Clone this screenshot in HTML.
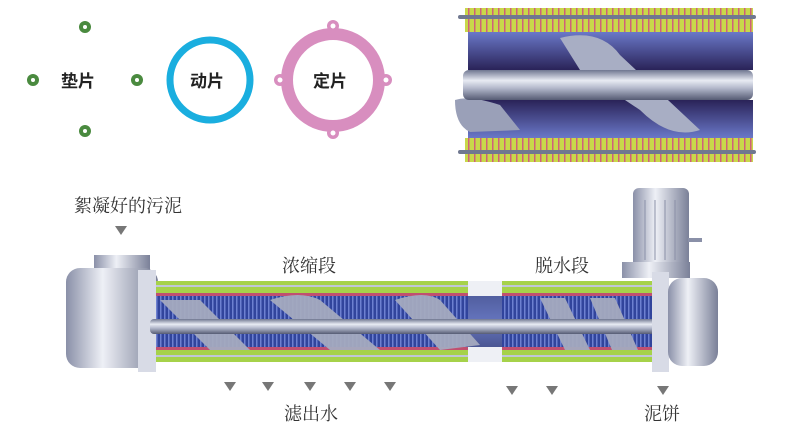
<!DOCTYPE html>
<html><head><meta charset="utf-8"><style>
html,body{margin:0;padding:0;background:#fff;}
svg{display:block}
.s{font-family:"Liberation Serif","Noto Serif CJK SC",serif;font-size:18px;fill:#333}
.b{font-family:"Liberation Sans","Noto Sans CJK SC",sans-serif;font-size:17px;font-weight:bold;fill:#222}
</style></head><body>
<svg width="798" height="434" viewBox="0 0 798 434" xmlns="http://www.w3.org/2000/svg">
<defs>
<linearGradient id="metal" x1="0" y1="0" x2="0" y2="1">
<stop offset="0" stop-color="#6f7690"/><stop offset="0.35" stop-color="#e8ebf3"/><stop offset="0.6" stop-color="#b4b9cc"/><stop offset="1" stop-color="#555b73"/></linearGradient>
<linearGradient id="metalh" x1="0" y1="0" x2="1" y2="0">
<stop offset="0" stop-color="#8a90a8"/><stop offset="0.4" stop-color="#eef0f6"/><stop offset="1" stop-color="#7a8098"/></linearGradient>
<linearGradient id="blue" x1="0" y1="0" x2="0" y2="1">
<stop offset="0" stop-color="#2a3a8a"/><stop offset="0.5" stop-color="#4356b0"/><stop offset="1" stop-color="#22307a"/></linearGradient>
<linearGradient id="purp" x1="0" y1="0" x2="0" y2="1">
<stop offset="0" stop-color="#6a78c8"/><stop offset="1" stop-color="#2a2358"/></linearGradient>
<linearGradient id="purp2" x1="0" y1="0" x2="0" y2="1">
<stop offset="0" stop-color="#2a2358"/><stop offset="1" stop-color="#6a78c8"/></linearGradient>
<pattern id="fins" width="4" height="10" patternUnits="userSpaceOnUse"><rect width="4" height="10" fill="#31449c"/><rect width="1.5" height="10" fill="#6d80d0"/></pattern>
<pattern id="tfins" width="6" height="10" patternUnits="userSpaceOnUse"><rect width="6" height="10" fill="#c8d84a"/><rect width="1.5" height="10" fill="#d0607a"/></pattern>
</defs>

<!-- washers -->
<g fill="#4a8a3f"><circle cx="85" cy="27" r="6"/><circle cx="33" cy="80" r="6"/><circle cx="137" cy="80" r="6"/><circle cx="85" cy="131" r="6"/></g>
<g fill="#fff"><circle cx="85" cy="27" r="2"/><circle cx="33" cy="80" r="2"/><circle cx="137" cy="80" r="2"/><circle cx="85" cy="131" r="2"/></g>
<text class="b" x="61" y="87">垫片</text>
<circle cx="210" cy="80" r="40" fill="none" stroke="#1aaedf" stroke-width="7"/>
<text class="b" x="190" y="87">动片</text>
<g fill="#d88ebf"><circle cx="333" cy="26" r="6"/><circle cx="333" cy="133" r="6"/><circle cx="280" cy="80" r="6"/><circle cx="386" cy="80" r="6"/></g>
<circle cx="333" cy="80" r="46" fill="none" stroke="#d88ebf" stroke-width="12"/>
<g fill="#fff"><circle cx="333" cy="26" r="2.5"/><circle cx="333" cy="133" r="2.5"/><circle cx="280" cy="80" r="2.5"/><circle cx="386" cy="80" r="2.5"/></g>
<text class="b" x="313" y="87">定片</text>

<!-- top right illustration -->
<rect x="465" y="8" width="288" height="24" fill="url(#tfins)"/>
<rect x="458" y="15" width="298" height="4" rx="2" fill="#707890"/>
<rect x="468" y="32" width="285" height="38" fill="url(#purp)"/>
<rect x="468" y="100" width="285" height="38" fill="url(#purp2)"/>
<rect x="465" y="138" width="288" height="24" fill="url(#tfins)"/>
<rect x="458" y="150" width="298" height="4" rx="2" fill="#707890"/>
<path d="M455 100 Q470 95 500 105 L520 130 L470 132 Q455 125 455 100Z" fill="#9aa0b8"/>
<path d="M560 38 Q600 28 620 55 L700 130 Q670 140 640 110 L580 70Z" fill="#a8aec4"/>
<rect x="463" y="70" width="290" height="30" rx="6" fill="url(#metal)"/>

<!-- labels -->
<text class="s" x="74" y="212">絮凝好的污泥</text>
<path d="M115 226h12l-6 9z" fill="#777"/>
<text class="s" x="282" y="272">浓缩段</text>
<text class="s" x="535" y="272">脱水段</text>

<!-- motor -->
<rect x="633" y="188" width="56" height="80" rx="6" fill="url(#metalh)"/>
<g stroke="#8a90a8" stroke-width="1"><line x1="645" y1="200" x2="645" y2="260"/><line x1="655" y1="200" x2="655" y2="260"/><line x1="665" y1="200" x2="665" y2="260"/><line x1="675" y1="200" x2="675" y2="260"/></g>
<rect x="688" y="238" width="14" height="4" fill="#8a90a8"/>
<rect x="622" y="262" width="68" height="16" fill="url(#metalh)"/>

<!-- left housing -->
<rect x="94" y="255" width="56" height="18" fill="url(#metalh)"/>
<rect x="66" y="268" width="92" height="100" rx="14" fill="url(#metalh)"/>
<rect x="138" y="270" width="18" height="102" fill="#d8dbe6"/>

<!-- tube -->
<rect x="156" y="281" width="498" height="12" fill="#a6d24a"/>
<rect x="156" y="285" width="498" height="2" fill="#c0c6d8"/>
<rect x="156" y="293" width="498" height="3" fill="#c05070"/>
<rect x="156" y="296" width="498" height="54" fill="url(#fins)"/>
<rect x="156" y="347" width="498" height="3" fill="#c05070"/>
<rect x="156" y="350" width="498" height="12" fill="#a6d24a"/>
<rect x="156" y="355" width="498" height="2" fill="#c0c6d8"/>
<rect x="468" y="281" width="34" height="81" fill="#eef0f5"/>
<rect x="468" y="296" width="34" height="51" fill="url(#blue)" opacity="0.8"/>
<!-- screw flights -->
<g fill="#a4aabf" opacity="0.95">
<path d="M160 300 L200 300 L250 350 L210 350Z"/>
<path d="M270 300 Q300 290 320 300 L380 350 L330 350Z"/>
<path d="M395 300 Q425 290 440 300 L480 345 L440 350Z"/>
<path d="M540 298 L565 298 L590 350 L565 350Z"/>
<path d="M590 298 L615 298 L638 350 L612 350Z"/>
</g>
<rect x="150" y="319" width="505" height="15" rx="4" fill="url(#metal)"/>

<!-- right housing -->
<rect x="652" y="272" width="17" height="100" fill="#d8dbe6"/>
<rect x="668" y="278" width="50" height="88" rx="14" fill="url(#metalh)"/>

<!-- bottom arrows -->
<g fill="#777">
<path d="M224 382h12l-6 9z"/><path d="M262 382h12l-6 9z"/><path d="M304 382h12l-6 9z"/><path d="M344 382h12l-6 9z"/><path d="M384 382h12l-6 9z"/>
<path d="M506 386h12l-6 9z"/><path d="M546 386h12l-6 9z"/><path d="M657 386h12l-6 9z"/>
</g>
<text class="s" x="284" y="420">滤出水</text>
<text class="s" x="644" y="420">泥饼</text>
</svg>
</body></html>
